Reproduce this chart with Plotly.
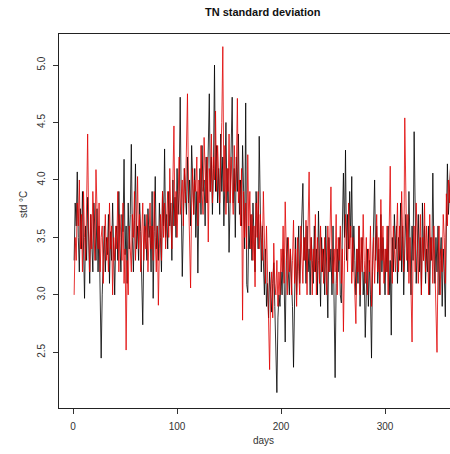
import plotly.graph_objects as go

title = "TN standard deviation"
x_label = "days"
y_label = "std °C"
x_ticks = [0, 100, 200, 300]
y_ticks = [2.5, 3.0, 3.5, 4.0, 4.5, 5.0]
y_tick_text = ["2.5", "3.0", "3.5", "4.0", "4.5", "5.0"]

black_series = [
    3.3,3.8,3.6,4.07,3.5,3.2,3.75,3.4,3.9,3.55,
    2.97,3.6,3.3,3.85,3.5,3.1,3.7,3.45,3.2,3.8,
    3.5,3.3,3.75,3.2,3.6,2.9,2.45,3.0,3.4,3.6,
    3.2,3.5,3.35,3.7,3.1,3.55,3.3,3.8,3.4,3.0,
    3.5,3.6,3.3,3.9,3.45,3.2,3.7,3.55,4.18,3.35,
    3.6,3.1,3.8,3.4,3.7,4.31,3.5,3.2,3.65,4.14,
    3.4,3.6,3.3,3.8,3.55,3.0,2.74,3.4,3.7,3.5,
    3.3,3.75,3.5,3.6,3.2,3.9,2.97,3.55,4.03,3.4,
    3.6,3.3,3.8,3.5,3.2,3.9,3.6,4.27,3.5,3.7,
    3.4,3.9,3.6,3.8,3.3,4.0,3.6,3.85,3.5,4.1,
    3.7,3.9,4.72,3.8,3.16,3.6,4.1,3.9,3.7,4.2,
    3.8,4.0,3.6,4.3,3.9,3.7,4.1,3.5,3.9,3.19,
    3.8,4.1,3.7,4.3,3.9,4.0,3.6,4.2,3.8,4.4,
    4.75,3.9,4.2,3.7,4.1,5.0,3.9,4.3,3.8,4.1,
    3.7,4.4,3.9,4.2,3.6,4.0,4.5,3.8,4.1,3.37,
    3.9,4.3,4.72,3.8,4.1,3.5,4.2,3.9,4.4,3.7,
    4.0,3.6,4.3,3.9,3.4,4.67,3.09,3.02,3.6,3.4,
    3.7,3.3,3.8,3.5,3.2,3.9,3.6,3.4,4.38,3.5,
    3.2,3.6,3.3,3.0,3.4,2.9,3.1,2.8,3.2,3.0,
    2.85,3.1,3.28,2.9,2.6,2.15,2.8,3.0,2.9,3.2,
    3.0,3.4,3.1,2.59,3.3,3.5,3.2,3.0,3.4,3.1,
    2.9,2.37,3.2,3.5,3.0,3.3,3.6,3.1,3.4,3.8,
    3.97,3.3,3.5,3.1,3.6,3.2,3.4,3.0,3.5,3.3,
    3.1,3.6,3.2,3.4,3.0,3.73,3.3,2.9,3.5,3.2,
    3.4,3.0,3.6,3.3,2.8,3.5,3.2,3.4,3.0,3.6,
    2.9,2.28,3.1,3.4,3.2,3.5,3.0,2.93,3.6,4.06,
    3.5,4.26,3.3,3.7,3.4,3.9,3.5,4.03,3.2,3.6,
    3.3,3.0,3.4,3.1,3.6,2.9,3.3,3.5,3.0,3.2,
    2.63,3.1,3.4,2.9,3.3,3.0,2.45,3.2,3.5,4.0,
    3.3,3.6,3.1,3.4,3.0,3.7,3.2,3.5,3.3,3.0,
    3.4,3.2,3.6,3.0,3.3,2.65,3.5,3.2,3.7,3.4,
    3.6,3.1,3.5,3.3,3.8,3.2,3.6,3.0,3.4,3.7,
    3.5,3.2,3.9,3.4,3.0,3.6,3.3,4.42,3.5,3.1,
    3.4,3.7,3.2,3.5,3.0,3.8,3.3,3.6,3.1,3.4,
    3.2,3.6,3.0,3.5,3.3,4.06,3.4,3.1,3.5,3.2,
    3.6,3.0,3.3,3.5,2.9,3.4,3.2,2.81,3.6,4.14,
    3.7,3.9,4.1,3.8,4.0,
]

red_series = [
    3.0,3.5,3.3,3.8,3.6,4.0,3.4,3.7,3.2,3.9,
    3.5,3.3,3.8,4.4,3.6,3.2,3.7,3.4,3.9,3.5,
    3.3,4.09,3.6,3.4,3.8,3.2,3.5,3.6,3.1,3.45,
    3.7,3.3,3.5,3.2,3.8,3.4,3.6,3.0,3.5,3.3,
    3.6,3.4,3.9,3.2,3.7,3.5,3.3,3.8,3.1,3.4,
    2.52,3.3,3.0,3.6,3.4,3.2,3.7,3.5,3.9,3.3,
    3.6,4.03,3.4,3.7,3.2,3.5,3.8,3.3,3.6,3.4,
    3.7,3.2,3.5,3.8,3.4,3.6,3.3,3.9,3.5,3.2,
    3.6,2.91,3.4,3.7,3.3,3.9,3.5,3.8,3.4,3.6,
    3.9,3.5,4.1,3.7,3.4,4.0,4.47,3.6,3.9,3.5,
    3.8,4.2,3.7,3.9,4.0,3.6,4.1,3.8,4.3,4.75,
    3.9,3.5,3.06,3.8,4.1,3.7,4.0,3.9,4.2,3.6,
    4.0,3.8,4.3,3.9,3.7,4.37,4.0,3.8,4.2,3.46,
    4.1,3.9,4.4,3.8,4.2,4.0,4.6,3.9,4.3,4.1,
    3.8,4.2,4.5,5.16,3.9,4.3,3.7,4.1,3.9,4.4,
    3.8,4.2,4.0,3.7,4.3,3.9,4.1,4.71,3.8,4.0,
    3.6,4.1,2.78,3.9,3.5,3.8,3.4,4.22,3.6,3.9,
    3.4,3.7,3.3,3.6,3.07,3.8,3.5,3.9,3.4,3.7,
    3.5,3.3,3.9,3.4,3.1,3.6,3.2,2.9,2.35,3.0,
    3.2,2.8,3.45,3.1,3.0,3.3,2.9,3.2,3.0,3.4,
    3.2,3.6,3.1,3.81,3.3,3.0,3.5,3.2,3.4,3.0,
    3.3,3.65,3.1,3.4,2.9,3.5,3.2,3.0,3.6,3.3,
    3.1,3.5,3.3,3.65,3.0,3.6,4.07,3.3,3.5,3.0,
    3.4,3.2,3.7,3.0,3.5,3.3,3.1,3.6,3.2,3.4,
    3.1,3.5,3.3,3.0,3.6,3.2,3.5,3.94,3.3,3.1,
    3.4,3.2,3.7,3.0,3.5,3.3,3.6,3.1,3.4,2.68,
    3.3,3.7,3.5,3.2,3.8,3.4,3.6,3.1,3.5,3.3,
    3.0,2.75,3.4,3.2,3.6,3.0,3.5,3.2,3.7,3.3,
    3.1,3.5,3.0,3.4,3.2,3.6,2.9,3.3,3.5,3.1,
    3.4,3.7,3.2,3.5,3.0,3.83,3.3,3.6,3.1,3.4,
    3.2,3.6,3.0,3.5,4.12,3.3,3.1,3.6,3.4,3.2,
    3.5,3.8,3.2,3.6,3.3,3.9,3.5,3.2,4.54,3.6,
    3.3,3.7,3.1,3.5,3.0,2.59,3.4,3.6,3.2,3.8,
    3.5,3.1,3.4,3.7,3.0,3.5,3.3,3.8,3.2,3.6,
    3.4,3.0,3.7,3.3,3.5,3.1,3.6,3.2,2.8,2.5,
    3.3,3.6,3.0,3.4,3.2,3.7,3.5,3.1,3.88,3.6,
    4.0,3.8,4.13,3.9,4.0,
]

days = list(range(1, len(black_series) + 1))

W, H = 450, 454
ML, MT, MB, MR = 59, 34, 46, 0
PW = W - ML - MR
PH = H - MT - MB

FONT = "Liberation Sans, Arial, sans-serif"

fig = go.Figure()
fig.add_trace(go.Scatter(x=days, y=black_series, mode="lines",
                         line=dict(color="#000000", width=0.8), showlegend=False))
fig.add_trace(go.Scatter(x=days, y=red_series, mode="lines",
                         line=dict(color="#e00000", width=0.8), showlegend=False))

def px_to_paper_x(px):
    return (px - ML) / PW

def px_to_paper_y(py):
    return 1 - (py - MT) / PH

fig.update_layout(
    width=W, height=H,
    margin=dict(l=ML, r=MR, t=MT, b=MB, pad=0),
    paper_bgcolor="white", plot_bgcolor="white",
    font=dict(family=FONT, size=10, color="#333333"),
    xaxis=dict(range=[-13.56, 362.5], tickvals=x_ticks, ticks="outside", ticklen=5,
               tickcolor="#333333", showgrid=False, zeroline=False,
               showline=True, linecolor="#222222", linewidth=1, mirror=True,
               tickfont=dict(size=10, color="#333333"), ticklabelstandoff=4),
    yaxis=dict(range=[2.016, 5.27], tickvals=y_ticks, ticktext=y_tick_text,
               ticks="outside", ticklen=5, tickcolor="#333333", tickangle=-90,
               showgrid=False, zeroline=False, showline=True, linecolor="#222222",
               linewidth=1, mirror=False,
               tickfont=dict(size=10, color="#333333"), ticklabelstandoff=4),
    annotations=[
        dict(text="<b>" + title + "</b>", xref="paper", yref="paper",
             x=px_to_paper_x(263), y=px_to_paper_y(12), showarrow=False,
             xanchor="center", yanchor="middle",
             font=dict(size=11, color="#111111", family=FONT)),
        dict(text=x_label, xref="paper", yref="paper",
             x=px_to_paper_x(263), y=px_to_paper_y(441), showarrow=False,
             xanchor="center", yanchor="middle",
             font=dict(size=10, color="#333333", family=FONT)),
        dict(text=y_label, xref="paper", yref="paper",
             x=px_to_paper_x(23), y=px_to_paper_y(205), showarrow=False,
             xanchor="center", yanchor="middle", textangle=-90,
             font=dict(size=10, color="#333333", family=FONT)),
    ],
)

fig.write_html("out.html")
